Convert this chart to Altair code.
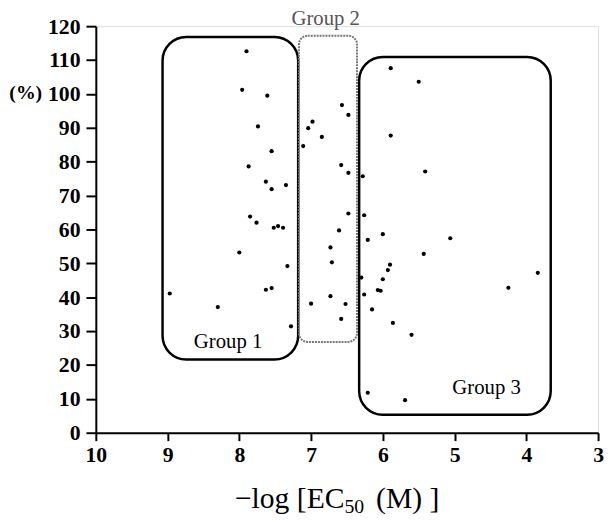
import altair as alt
import pandas as pd

# -log[EC50 (M)] and response (%)
x_vals = [7.90, 7.96, 7.61, 7.74, 7.55, 7.87, 7.11, 7.63, 7.55, 7.35,
          7.85, 7.76, 7.52, 7.46, 7.39, 8.00, 7.33, 7.63, 7.55, 8.97,
          8.30, 7.28,
          5.89, 5.50, 6.57, 6.48, 6.98, 7.04, 6.85, 5.89, 6.58, 6.48,
          6.28, 5.41, 6.48, 6.26, 6.61, 6.00, 6.73, 6.21, 6.71, 5.06,
          5.43, 5.90, 5.93, 6.30, 6.00, 6.07, 6.03, 6.26, 6.73, 7.00,
          6.52, 6.15, 6.58, 5.86, 5.60, 3.84, 4.25, 6.21, 5.69]
y_vals = [112.6, 101.2, 99.5, 90.4, 83.1, 78.6, 84.6, 74.1, 71.9, 73.1,
          63.8, 62.0, 60.5, 61.0, 60.5, 53.2, 49.2, 42.2, 42.7, 41.1,
          37.1, 31.4,
          107.6, 103.6, 96.7, 93.8, 91.8, 89.9, 87.3, 87.7, 79.0, 76.7,
          75.7, 77.1, 64.7, 64.2, 59.7, 58.6, 54.7, 56.9, 50.3, 57.4,
          52.8, 49.6, 48.0, 45.8, 45.3, 42.1, 41.9, 40.8, 40.3, 38.1,
          38.0, 36.4, 33.6, 32.4, 28.9, 47.2, 42.8, 11.8, 9.6]

# group boxes (data coordinates)
box_names = ["Group 1", "Group 2", "Group 3"]
box_x1 = [9.07, 7.17, 6.33]
box_x2 = [7.18, 6.36, 3.66]
box_y1 = [116.8, 117.2, 110.9]
box_y2 = [21.6, 26.8, 5.3]

x_ticks = [10, 9, 8, 7, 6, 5, 4, 3]
y_ticks = [0, 10, 20, 30, 40, 50, 60, 70, 80, 90, 100, 110, 120]

pts = pd.DataFrame({"x": x_vals, "y": y_vals})
boxes = pd.DataFrame({"name": box_names, "x1": box_x1, "x2": box_x2,
                      "y1": box_y1, "y2": box_y2})

FONT = "Liberation Serif"
W, H = 509, 412

xs = alt.Scale(domain=[3, 10], reverse=True, nice=False, zero=False)
ys = alt.Scale(domain=[0, 120], nice=False)

x_axis = alt.Axis(
    values=x_ticks, format="d", title=None, grid=False,
    domainColor="black", domainWidth=2, tickColor="black", tickWidth=2,
    tickSize=8, labelFont=FONT, labelFontSize=22, labelColor="black",
    labelFontWeight="bold",
    labelPadding=4, labelFlush=False, labelOverlap=False)
y_axis = alt.Axis(
    values=y_ticks, format="d", title=None, grid=False,
    domainColor="black", domainWidth=2, tickColor="black", tickWidth=2,
    tickSize=10, labelFont=FONT, labelFontSize=22, labelColor="black",
    labelFontWeight="bold",
    labelPadding=6, labelOverlap=False, labelFlush=False)

points = alt.Chart(pts).mark_circle(size=18, color="black", opacity=1).encode(
    x=alt.X("x:Q", scale=xs, axis=x_axis),
    y=alt.Y("y:Q", scale=ys, axis=y_axis),
)

solid = alt.Chart(boxes).transform_filter(
    alt.datum.name != "Group 2").mark_rect(
    fill=None, fillOpacity=0, stroke="black", strokeWidth=2.5,
    cornerRadius=24).encode(
    x=alt.X("x1:Q", scale=xs, axis=x_axis), x2="x2:Q",
    y=alt.Y("y1:Q", scale=ys, axis=y_axis), y2="y2:Q")

dotted = alt.Chart(boxes).transform_filter(
    alt.datum.name == "Group 2").mark_rect(
    fill=None, fillOpacity=0, stroke="#777777", strokeWidth=2,
    strokeDash=[2, 1], cornerRadius=9).encode(
    x=alt.X("x1:Q", scale=xs, axis=x_axis), x2="x2:Q",
    y=alt.Y("y1:Q", scale=ys, axis=y_axis), y2="y2:Q")

def txt(text, x, y, size, align="center", baseline="middle", color="black",
        weight="normal"):
    return alt.Chart(pd.DataFrame({"t": [text]})).mark_text(
        font=FONT, fontSize=size, align=align, baseline=baseline,
        color=color, fontWeight=weight).encode(
        text="t:N", x=alt.value(x), y=alt.value(y))

labels = [
    txt("Group 1", 134, 320, 21),
    txt("Group 2", 233, -7, 21, color="#555555"),
    txt("Group 3", 396, 367, 21),
    txt("(%)", -71, 68, 20, weight="bold"),
    txt("\u2212log [EC", 252, 488, 30, align="right", baseline="alphabetic"),
    txt("50", 252, 493, 20, align="left", baseline="alphabetic"),
    txt("(M) ]", 284, 488, 30, align="left", baseline="alphabetic"),
]

chart = alt.layer(points, solid, dotted, *labels).properties(
    width=W, height=H,
    autosize=alt.AutoSizeParams(type="none"),
    padding={"left": 89, "top": 15, "right": 6, "bottom": 83},
).configure_view(strokeWidth=0).configure(background="white")

chart.save("out.html", embed_options={"renderer": "svg", "actions": False})
